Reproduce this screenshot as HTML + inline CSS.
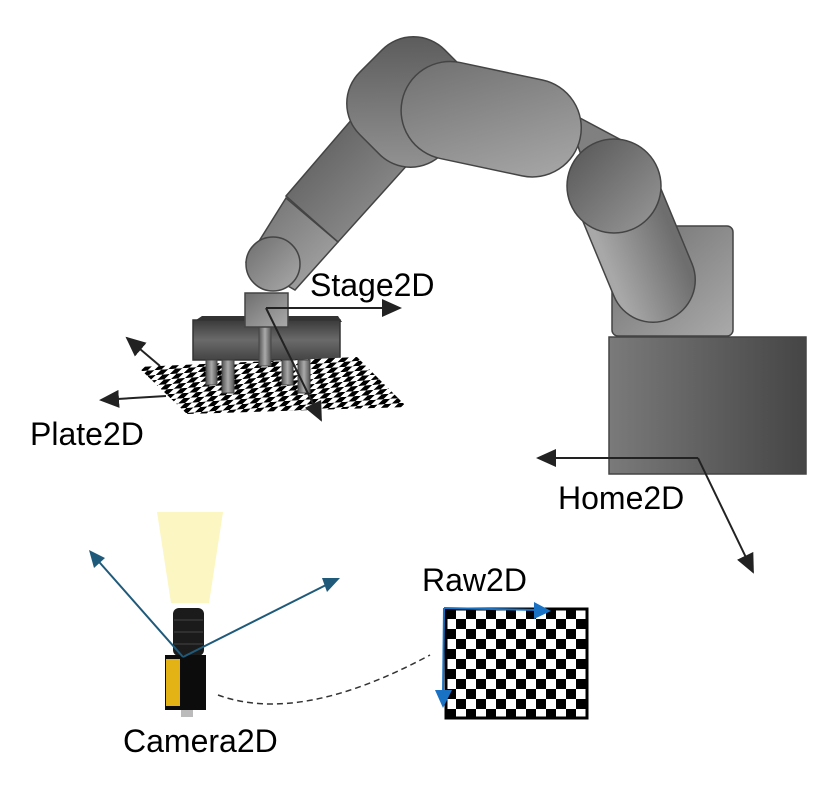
<!DOCTYPE html>
<html><head><meta charset="utf-8"><style>
html,body{margin:0;padding:0;background:#fff;}
svg{display:block;}
text{font-family:"Liberation Sans",sans-serif;font-size:32px;fill:#000;}
</style></head><body>
<svg width="840" height="801" viewBox="0 0 840 801" xmlns="http://www.w3.org/2000/svg">
<defs>
<linearGradient id="gBase" x1="0" y1="0" x2="1" y2="0"><stop offset="0" stop-color="#7a7a7a"/><stop offset="1" stop-color="#454545"/></linearGradient>
<linearGradient id="gLight" x1="0" y1="0" x2="1" y2="1"><stop offset="0" stop-color="#6e6e6e"/><stop offset="1" stop-color="#aaaaaa"/></linearGradient>
<linearGradient id="gLight2" x1="1" y1="0" x2="0" y2="1"><stop offset="0" stop-color="#6e6e6e"/><stop offset="1" stop-color="#a8a8a8"/></linearGradient>
<linearGradient id="gDark" x1="0" y1="0" x2="1" y2="1"><stop offset="0" stop-color="#555"/><stop offset="1" stop-color="#999"/></linearGradient>
<linearGradient id="gGrip" x1="0" y1="0" x2="0" y2="1"><stop offset="0" stop-color="#3a3a3a"/><stop offset="0.5" stop-color="#6a6a6a"/><stop offset="1" stop-color="#444"/></linearGradient>
<linearGradient id="gLeg" x1="0" y1="0" x2="1" y2="0"><stop offset="0" stop-color="#555"/><stop offset="0.5" stop-color="#aaa"/><stop offset="1" stop-color="#555"/></linearGradient>
<pattern id="chk" width="20" height="20" patternUnits="userSpaceOnUse" x="446" y="609">
<rect width="20" height="20" fill="#fff"/><rect width="10" height="10" fill="#000"/><rect x="10" y="10" width="10" height="10" fill="#000"/></pattern>
<pattern id="chk2" width="14" height="10" patternUnits="userSpaceOnUse" patternTransform="rotate(-4) skewX(-50)">
<rect width="14" height="10" fill="#fff"/><rect width="7" height="5" fill="#000"/><rect x="7" y="5" width="7" height="5" fill="#000"/></pattern>
<marker id="ab" markerWidth="20" markerHeight="18" refX="18" refY="9" orient="auto" markerUnits="userSpaceOnUse"><path d="M0,0 L20,9 L0,18 Z" fill="#222"/></marker>
</defs>

<rect x="609" y="337" width="197" height="137" fill="url(#gBase)" stroke="#444" stroke-width="1.5"/>
<rect x="612" y="226" width="121" height="110" rx="6" fill="url(#gLight)" stroke="#444" stroke-width="1.5"/>
<polygon points="565,110 640,150 660,200 590,180" fill="#808080" stroke="#444" stroke-width="1.5"/>
<line x1="614" y1="186" x2="653" y2="280" stroke="#444" stroke-width="86" stroke-linecap="round"/>
<line x1="614" y1="186" x2="653" y2="280" stroke="url(#gLight2)" stroke-width="83" stroke-linecap="round"/>
<circle cx="614" cy="186" r="47" fill="url(#gDark)" stroke="#444" stroke-width="1.5"/>
<polygon points="286,196 353,118 410,162 338,242" fill="url(#gDark)" stroke="#444" stroke-width="1.5"/>
<polygon points="286,198 338,242 295,290 246,262" fill="url(#gLight)" stroke="#444" stroke-width="1.5"/>
<circle cx="273" cy="264" r="27" fill="url(#gLight)" stroke="#444" stroke-width="1.5"/>
<rect x="354" y="42" width="116" height="120" rx="44" transform="rotate(45 412 102)" fill="url(#gDark)" stroke="#444" stroke-width="1.5"/>
<g transform="rotate(12 490 120)">
<rect x="400" y="70" width="182" height="98" rx="49" fill="url(#gLight)" stroke="#444" stroke-width="1.5"/>
</g>
<polygon points="193,322 202,316 338,316 342,322" fill="#333"/>
<rect x="193" y="320" width="147" height="40" fill="url(#gGrip)" stroke="#333" stroke-width="1.5"/>

<polygon points="138,367 357,357 407,407 187,414" fill="url(#chk2)"/>
<rect x="206" y="360" width="11" height="25" fill="url(#gLeg)" stroke="#444"/>
<rect x="222" y="360" width="12" height="33" fill="url(#gLeg)" stroke="#444"/>
<rect x="282" y="360" width="11" height="25" fill="url(#gLeg)" stroke="#444"/>
<rect x="298" y="360" width="12" height="33" fill="url(#gLeg)" stroke="#444"/>
<rect x="259" y="326" width="12" height="40" fill="url(#gLeg)" stroke="#444"/>
<rect x="245" y="293" width="43" height="34" fill="url(#gLight)" stroke="#444" stroke-width="1.5"/>

<line x1="266" y1="308" x2="400" y2="308" stroke="#222" stroke-width="2" marker-end="url(#ab)"/>
<line x1="266" y1="308" x2="321" y2="420" stroke="#222" stroke-width="2" marker-end="url(#ab)"/>
<line x1="166" y1="396" x2="101" y2="400" stroke="#222" stroke-width="2" marker-end="url(#ab)"/>
<line x1="160" y1="366" x2="127" y2="338" stroke="#222" stroke-width="2" marker-end="url(#ab)"/>
<line x1="698" y1="458" x2="538" y2="458" stroke="#222" stroke-width="2" marker-end="url(#ab)"/>
<line x1="698" y1="458" x2="753" y2="572" stroke="#222" stroke-width="2" marker-end="url(#ab)"/>

<polygon points="157,512 223,512 209,603 171,603" fill="#fcf6c2"/>
<rect x="173" y="608" width="31" height="48" rx="6" fill="#1b1b1b"/>
<line x1="174" y1="620" x2="203" y2="620" stroke="#444"/>
<line x1="174" y1="632" x2="203" y2="632" stroke="#444"/>
<line x1="174" y1="644" x2="203" y2="644" stroke="#444"/>
<rect x="165" y="655" width="41" height="55" fill="#0c0c0c"/>
<rect x="166" y="659" width="14" height="47" fill="#e3b214"/>
<rect x="181" y="710" width="12" height="7" fill="#bbb"/>
<line x1="183" y1="657" x2="93" y2="555" stroke="#1f5a7a" stroke-width="2"/>
<polygon points="89,550 105,558 94,568" fill="#1f5a7a"/>
<line x1="183" y1="657" x2="330" y2="583" stroke="#1f5a7a" stroke-width="2"/>
<polygon points="340,578 322,578 327,592" fill="#1f5a7a"/>

<path d="M218,695 Q300,725 430,655" fill="none" stroke="#333" stroke-width="1.5" stroke-dasharray="6,4"/>

<rect x="446" y="609" width="141" height="109" fill="url(#chk)" stroke="#000" stroke-width="3"/>
<line x1="444" y1="608" x2="538" y2="610" stroke="#1a72c4" stroke-width="2"/>
<polygon points="551,611 534,602 534,619" fill="#1a72c4"/>
<line x1="444" y1="608" x2="443" y2="695" stroke="#1a72c4" stroke-width="2"/>
<polygon points="443,708 435,690 452,690" fill="#1a72c4"/>

<text x="310" y="296">Stage2D</text>
<text x="30" y="445">Plate2D</text>
<text x="558" y="509">Home2D</text>
<text x="422" y="591">Raw2D</text>
<text x="123" y="752">Camera2D</text>
</svg>
</body></html>
